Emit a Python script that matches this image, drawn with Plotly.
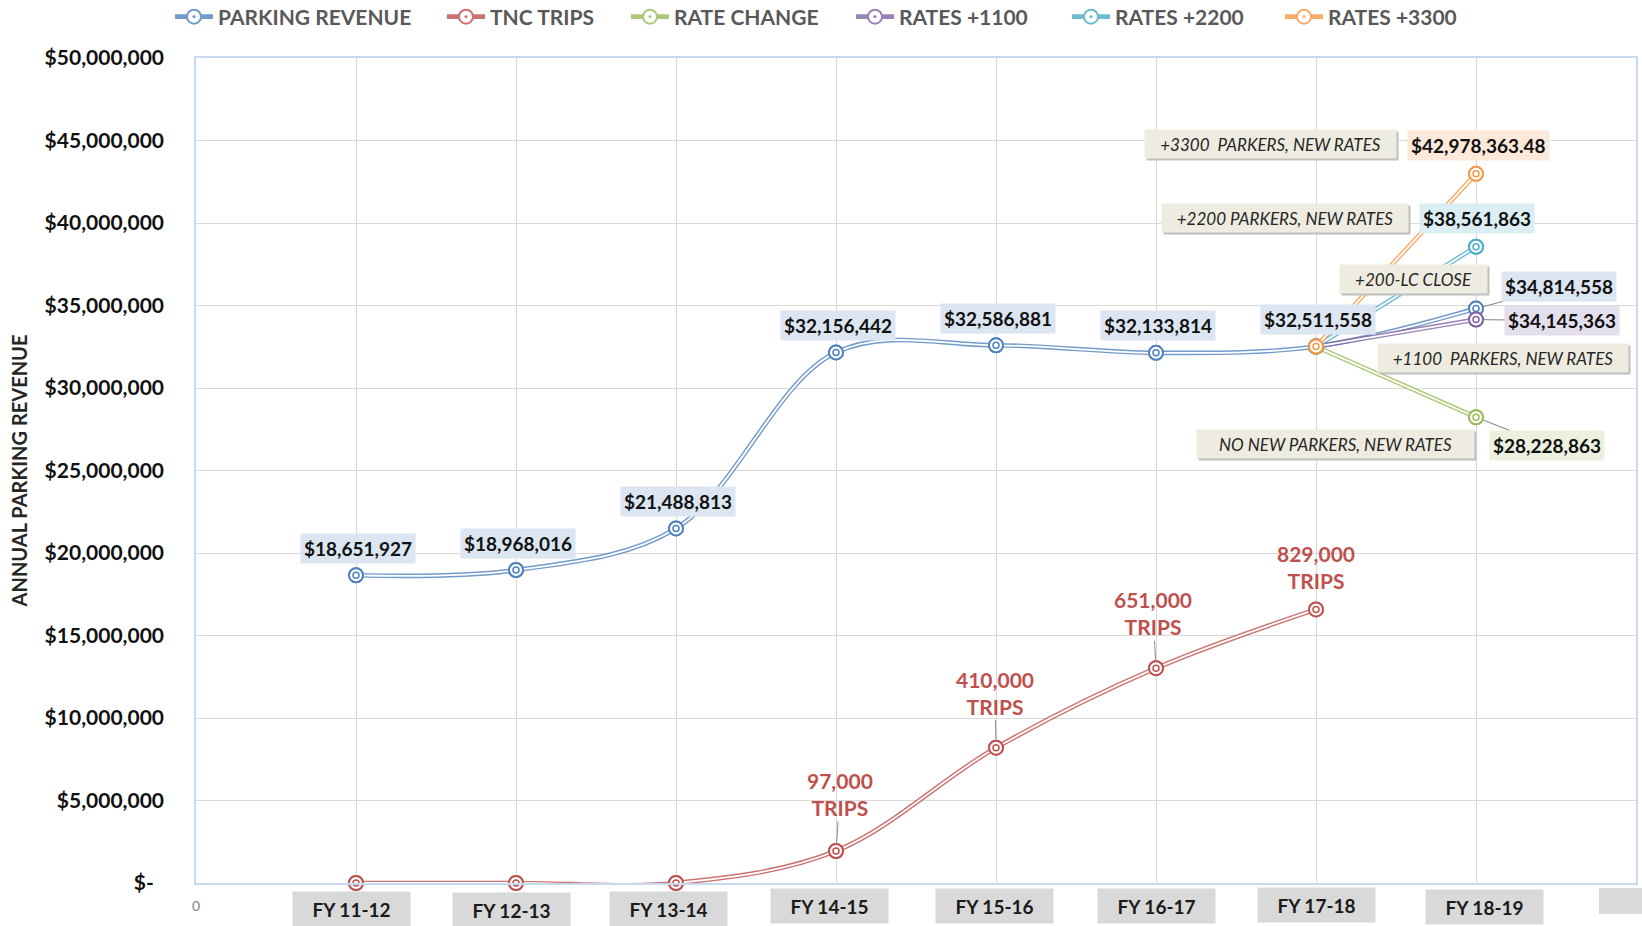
import plotly.graph_objects as go

# ---------------- data ----------------
categories = ["FY 11-12", "FY 12-13", "FY 13-14", "FY 14-15",
              "FY 15-16", "FY 16-17", "FY 17-18", "FY 18-19"]
parking_revenue = [18651927, 18968016, 21488813, 32156442,
                   32586881, 32133814, 32511558, 34814558]
tnc_plot_values = [0, 0, 0, 1940000, 8200000, 13020000, 16580000, None]
tnc_trips = [None, None, None, 97000, 410000, 651000, 829000, None]
rate_change = [None, None, None, None, None, None, 32511558, 28228863]
rates_1100 = [None, None, None, None, None, None, 32511558, 34145363]
rates_2200 = [None, None, None, None, None, None, 32511558, 38561863]
rates_3300 = [None, None, None, None, None, None, 32511558, 42978363.48]
series_names = ["PARKING REVENUE", "TNC TRIPS", "RATE CHANGE",
                "RATES +1100", "RATES +2200", "RATES +3300"]
scenario_notes = ["+200-LC CLOSE", "NO NEW PARKERS, NEW RATES",
                  "+1100  PARKERS, NEW RATES", "+2200 PARKERS, NEW RATES",
                  "+3300  PARKERS, NEW RATES"]
y_tick_values = [0, 5e6, 10e6, 15e6, 20e6, 25e6, 30e6, 35e6, 40e6, 45e6, 50e6]
y_tick_labels = ["$-\u00a0\u00a0", "$5,000,000", "$10,000,000", "$15,000,000",
                 "$20,000,000", "$25,000,000", "$30,000,000", "$35,000,000",
                 "$40,000,000", "$45,000,000", "$50,000,000"]

# ---------------- layout geometry ----------------
FIG_W, FIG_H = 1642, 926
L, R, T, B = 196, 1636, 58, 883
PW, PH = R - L, B - T


def px_x(px):
    return (px - L) / PW


def px_y(py):
    return (B - py) / PH


FONT = "Lato, 'Open Sans', sans-serif"
colors = ["#4F81BD", "#C0504D", "#9BBB59", "#8064A2", "#4BACC6", "#F79646"]
x_idx = list(range(len(categories)))
series_values = [parking_revenue, tnc_plot_values, rate_change,
                 rates_1100, rates_2200, rates_3300]
shapes_line = ["spline", "spline", "linear", "linear", "linear", "linear"]

fig = go.Figure()
legend_x_px = [178, 450, 634, 859, 1075, 1288]

for k, (name, vals, col, shp) in enumerate(zip(series_names, series_values, colors, shapes_line)):
    leg = "legend" if k == 0 else f"legend{k+1}"
    fig.add_trace(go.Scatter(
        x=x_idx, y=vals, name=name, mode="lines+markers", legend=leg,
        line=dict(color=col, width=4.6, shape=shp, smoothing=1),
        marker=dict(symbol="circle-dot", size=14, color="white",
                    line=dict(color=col, width=2)),
        opacity=0.8, cliponaxis=False, hoverinfo="skip"))
    fig.add_trace(go.Scatter(
        x=x_idx, y=vals, mode="lines+markers", showlegend=False,
        line=dict(color="white", width=1.8, shape=shp, smoothing=1),
        marker=dict(symbol="circle", size=14, color="white",
                    line=dict(color=col, width=2)),
        cliponaxis=False, hoverinfo="skip"))
    fig.add_trace(go.Scatter(
        x=x_idx, y=vals, mode="markers", showlegend=False,
        marker=dict(symbol="circle-open", size=6, color=col,
                    line=dict(color=col, width=1.5)),
        cliponaxis=False, hoverinfo="skip"))

annotations = []
label_font = dict(family=FONT, size=19, color="#111111", weight="bold")

for i in range(7):
    annotations.append(dict(
        x=x_idx[i], y=parking_revenue[i], xref="x", yref="y",
        text=f"${parking_revenue[i]:,.0f}", showarrow=False,
        xshift=2, yshift=27, bgcolor="#DCE6F2", borderpad=3, font=label_font))

annotations.append(dict(
    x=x_idx[7], y=parking_revenue[7], xref="x", yref="y",
    text=f"${parking_revenue[7]:,.0f}", showarrow=True, ax=83, ay=-22,
    arrowhead=0, arrowwidth=1, arrowcolor="#7F7F7F", standoff=8,
    bgcolor="#DCE6F2", borderpad=3, font=label_font))
annotations.append(dict(
    x=x_idx[7], y=rates_1100[7], xref="x", yref="y",
    text=f"${rates_1100[7]:,.0f}", showarrow=True, ax=86, ay=1,
    arrowhead=0, arrowwidth=1, arrowcolor="#7F7F7F", standoff=8,
    bgcolor="#E4DFEC", borderpad=3, font=label_font))
annotations.append(dict(
    x=x_idx[7], y=rates_2200[7], xref="x", yref="y",
    text=f"${rates_2200[7]:,.0f}", showarrow=False, xshift=1, yshift=28,
    bgcolor="#DAEEF3", borderpad=3, font=label_font))
annotations.append(dict(
    x=x_idx[7], y=rates_3300[7], xref="x", yref="y",
    text=f"${rates_3300[7]:,.2f}", showarrow=False, xshift=2, yshift=28,
    bgcolor="#FDE9D9", borderpad=3, font=label_font))
annotations.append(dict(
    x=x_idx[7], y=rate_change[7], xref="x", yref="y",
    text=f"${rate_change[7]:,.0f}", showarrow=True, ax=71, ay=28,
    arrowhead=0, arrowwidth=1, arrowcolor="#7F7F7F", standoff=8,
    bgcolor="#EBF1DE", borderpad=3, font=label_font))

trip_font = dict(family=FONT, size=21, color="#C0504D", weight="bold")
trip_offsets = {3: (4, -57, True), 4: (-1, -55, True), 5: (-3, -55, True), 6: (0, -42, False)}
for i, (dx, dy, arrow) in trip_offsets.items():
    annotations.append(dict(
        x=x_idx[i], y=tnc_plot_values[i], xref="x", yref="y",
        text=f"{tnc_trips[i]:,}<br>TRIPS", showarrow=True, ax=dx, ay=dy,
        arrowhead=0, arrowwidth=1,
        arrowcolor="#8C8C8C" if arrow else "rgba(0,0,0,0)", standoff=8,
        font=trip_font, align="center"))

note_pos = [(1413, 279), (1335, 444), (1503, 358), (1285, 218), (1270, 144)]
note_w = [147, 277, 250, 246, 251]
note_font = dict(family=FONT, size=17, color="#262626", style="italic")
for txt, (cx, cy), w in zip(scenario_notes, note_pos, note_w):
    annotations.append(dict(
        x=px_x(cx), y=px_y(cy), xref="paper", yref="paper", text=txt,
        xanchor="center", yanchor="middle",
        showarrow=False, xshift=2, yshift=-2, width=w - 2, height=26, borderpad=1,
        bgcolor="#BFBFBF", font=dict(family=FONT, size=17, color="rgba(0,0,0,0)",
                                     style="italic")))
    annotations.append(dict(
        x=px_x(cx), y=px_y(cy), xref="paper", yref="paper", text=txt,
        xanchor="center", yanchor="middle",
        showarrow=False, width=w - 2, height=26, borderpad=1,
        bgcolor="#EEECE1", font=note_font))

cat_xshift = [-5, -5, -8, -7, -2, 0, 0, 8]
cat_y_px = [909, 910, 909, 906, 906, 906, 905, 907]
for i, c in enumerate(categories):
    annotations.append(dict(
        x=x_idx[i], y=px_y(cat_y_px[i]), xref="x", yref="paper", text=c,
        xanchor="center", yanchor="middle",
        showarrow=False, xshift=cat_xshift[i], width=113, height=30,
        bgcolor="#D9D9D9", borderpad=2,
        font=dict(family=FONT, size=19, color="#1a1a1a", weight="bold")))
annotations.append(dict(
    x=0, y=px_y(905), xref="paper", yref="paper", text="0", showarrow=False,
    xanchor="center", yanchor="middle",
    font=dict(family=FONT, size=14, color="#7F7F7F")))

shapes = [dict(type="rect", xref="paper", yref="paper",
               x0=px_x(1599), x1=px_x(1650), y0=px_y(914), y1=px_y(888),
               fillcolor="#D9D9D9", line=dict(width=0), layer="below")]

legend_common = dict(orientation="h", yanchor="middle", xanchor="left",
                     y=px_y(17), bgcolor="rgba(0,0,0,0)", itemwidth=38,
                     font=dict(family=FONT, size=21, color="#595959", weight="bold"))
layout_legends = {}
for k, lx in enumerate(legend_x_px):
    key = "legend" if k == 0 else f"legend{k+1}"
    layout_legends[key] = dict(legend_common, x=px_x(lx - 8))

fig.update_layout(
    width=FIG_W, height=FIG_H,
    margin=dict(l=L, r=FIG_W - R, t=T, b=FIG_H - B, autoexpand=False),
    paper_bgcolor="white", plot_bgcolor="white",
    font=dict(family=FONT),
    showlegend=True,
    xaxis=dict(range=[-1, 8], tickvals=x_idx, showticklabels=False,
               showgrid=True, gridcolor="#D9D9D9", gridwidth=1,
               showline=True, mirror=True, linecolor="#C6D9F1", linewidth=1.5,
               zeroline=False, ticks=""),
    yaxis=dict(range=[0, 50e6], tickvals=y_tick_values, ticktext=y_tick_labels,
               showgrid=True, gridcolor="#D9D9D9", gridwidth=1,
               showline=True, mirror=True, linecolor="#C6D9F1", linewidth=1.5,
               zeroline=False, ticks="", ticklabelstandoff=26,
               tickfont=dict(family=FONT, size=21, color="#111111", weight="bold"),
               title=dict(text="ANNUAL PARKING REVENUE", standoff=12,
                          font=dict(family=FONT, size=20, color="#262626", weight="bold"))),
    annotations=annotations,
    shapes=shapes,
    **layout_legends,
)

fig.write_html("out.html", config={"displayModeBar": False},
               post_script="document.body.style.margin='0px';document.body.style.overflow='hidden';")
